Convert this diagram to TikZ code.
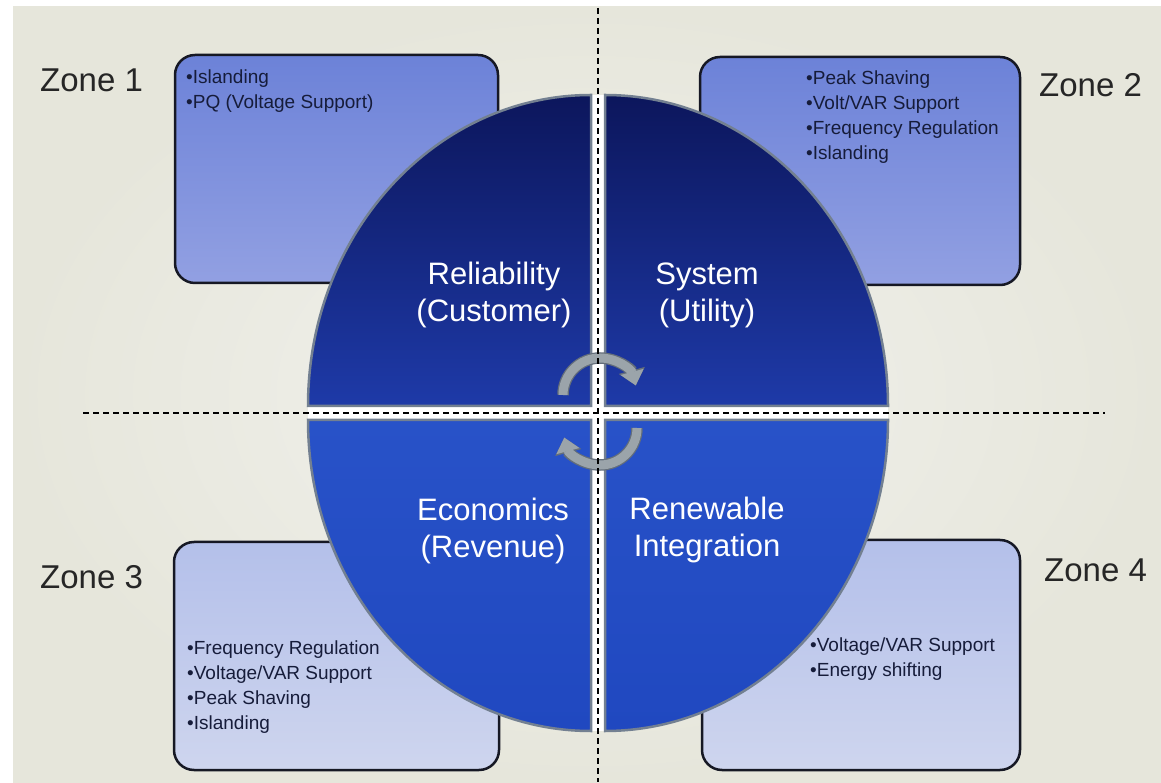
\documentclass[tikz,border=0pt]{standalone}
\usepackage{fontspec}
\setmainfont{Liberation Sans}
\usetikzlibrary{arrows.meta}

\definecolor{slidebg}{RGB}{242,242,238}
\definecolor{slideedge}{RGB}{230,230,219}
\definecolor{navytop}{RGB}{12,22,92}
\definecolor{navybot}{RGB}{30,58,168}
\definecolor{bluetop}{RGB}{40,82,200}
\definecolor{bluebot}{RGB}{32,72,192}
\definecolor{quadedge}{RGB}{115,128,145}
\definecolor{boxdark}{RGB}{108,130,216}
\definecolor{boxmid}{RGB}{146,160,226}
\definecolor{boxpale}{RGB}{180,192,234}
\definecolor{boxpaler}{RGB}{206,213,238}
\definecolor{boxline}{RGB}{22,24,36}
\definecolor{boxtext}{RGB}{22,28,58}
\definecolor{arrowgray}{RGB}{155,164,170}
\definecolor{arrowedge}{RGB}{100,110,122}

\tikzset{
  zonebox/.style={draw=boxline, line width=2.5pt, rounded corners=20pt, inner sep=0pt},
  zonelabel/.style={anchor=west, inner sep=0pt, text=black!85, font=\fontsize{33}{38}\selectfont},
  bullets/.style={anchor=north west, inner sep=0pt, align=left, text=boxtext, font=\fontsize{19}{25}\selectfont},
  quadlabel/.style={align=center, text=white, font=\fontsize{31}{37}\selectfont},
  quadrant/.style={draw=quadedge, line width=2.5pt},
  cyclearrow/.style={draw=arrowgray, line width=9pt, -{Triangle[width=23pt,length=14pt]},
    preaction={draw=arrowedge, line width=11.5pt, -{Triangle[width=26pt,length=15.5pt]}}},
  zoneline/.style={dash pattern=on 6pt off 4pt, line width=1.3pt}
}

\begin{document}
\begin{tikzpicture}[x=1pt,y=1pt]
    % page and slide
    \useasboundingbox (0,0) rectangle (1161,782);
    \fill[white] (0,0) rectangle (1161,782);
    \shade[inner color=slidebg, outer color=slideedge] (13,0) rectangle (1161,775);

    % zone boxes, behind the circle
    \node[zonebox, top color=boxdark, bottom color=boxmid, minimum width=323pt, minimum height=228pt] (z1box) at (336.5,613) {};
    \node[zonebox, top color=boxdark, bottom color=boxmid, minimum width=320pt, minimum height=228pt] (z2box) at (860,611) {};
    \node[zonebox, top color=boxpale, bottom color=boxpaler, minimum width=325pt, minimum height=228pt] (z3box) at (336.5,126) {};
    \node[zonebox, top color=boxpale, bottom color=boxpaler, minimum width=318pt, minimum height=230pt] (z4box) at (861,127) {};

    % items
    \node[bullets] (z1items) at (186,712) {\textbullet Islanding\\\textbullet PQ (Voltage Support)};
    \node[bullets] (z2items) at (806,711) {\textbullet Peak Shaving\\\textbullet Volt/VAR Support\\\textbullet Frequency Regulation\\\textbullet Islanding};
    \node[bullets] (z3items) at (187,141) {\textbullet Frequency Regulation\\\textbullet Voltage/VAR Support\\\textbullet Peak Shaving\\\textbullet Islanding};
    \node[bullets] (z4items) at (810,144) {\textbullet Voltage/VAR Support\\\textbullet Energy shifting};

    % gap between the quarters
    \fill[white] (591,51) rectangle (605,687);
    \fill[white] (308,362) rectangle (888,376);

    % quarters
    \draw[quadrant, top color=navytop, bottom color=navybot] (591,376) -- (308,376) arc[start angle=180, end angle=90, x radius=283pt, y radius=311pt] -- cycle;
    \draw[quadrant, top color=navytop, bottom color=navybot] (605,376) -- (605,687) arc[start angle=90, end angle=0, x radius=283pt, y radius=311pt] -- cycle;
    \draw[quadrant, top color=bluetop, bottom color=bluebot] (591,362) -- (591,51) arc[start angle=270, end angle=180, x radius=283pt, y radius=311pt] -- cycle;
    \draw[quadrant, top color=bluetop, bottom color=bluebot] (605,362) -- (888,362) arc[start angle=0, end angle=-90, x radius=283pt, y radius=311pt] -- cycle;

    \node[quadlabel] (reliab) at (494,487) {Reliability\\(Customer)};
    \node[quadlabel] (system) at (707,487) {System\\(Utility)};
    \node[quadlabel] (econ) at (493,251) {Economics\\(Revenue)};
    \node[quadlabel] (renew) at (707,252) {Renewable\\Integration};

    % cycle
    \draw[cyclearrow] (563,387) arc[start angle=180, end angle=15, radius=37pt];
    \draw[cyclearrow] (637,354) arc[start angle=0, end angle=-165, radius=37pt];

    % zone borders
    \coordinate (vtop) at (598,774);
    \coordinate (vbot) at (598,0);
    \coordinate (hleft) at (83,369);
    \coordinate (hright) at (1105,369);
    \draw[zoneline] (vtop) -- (vbot);
    \draw[zoneline] (hleft) -- (hright);

    % zone names
    \node[zonelabel] (zone1) at (40,702) {Zone 1};
    \node[zonelabel] (zone2) at (1039,697) {Zone 2};
    \node[zonelabel] (zone3) at (40,205) {Zone 3};
    \node[zonelabel] (zone4) at (1044,212) {Zone 4};
\end{tikzpicture}
\end{document}
